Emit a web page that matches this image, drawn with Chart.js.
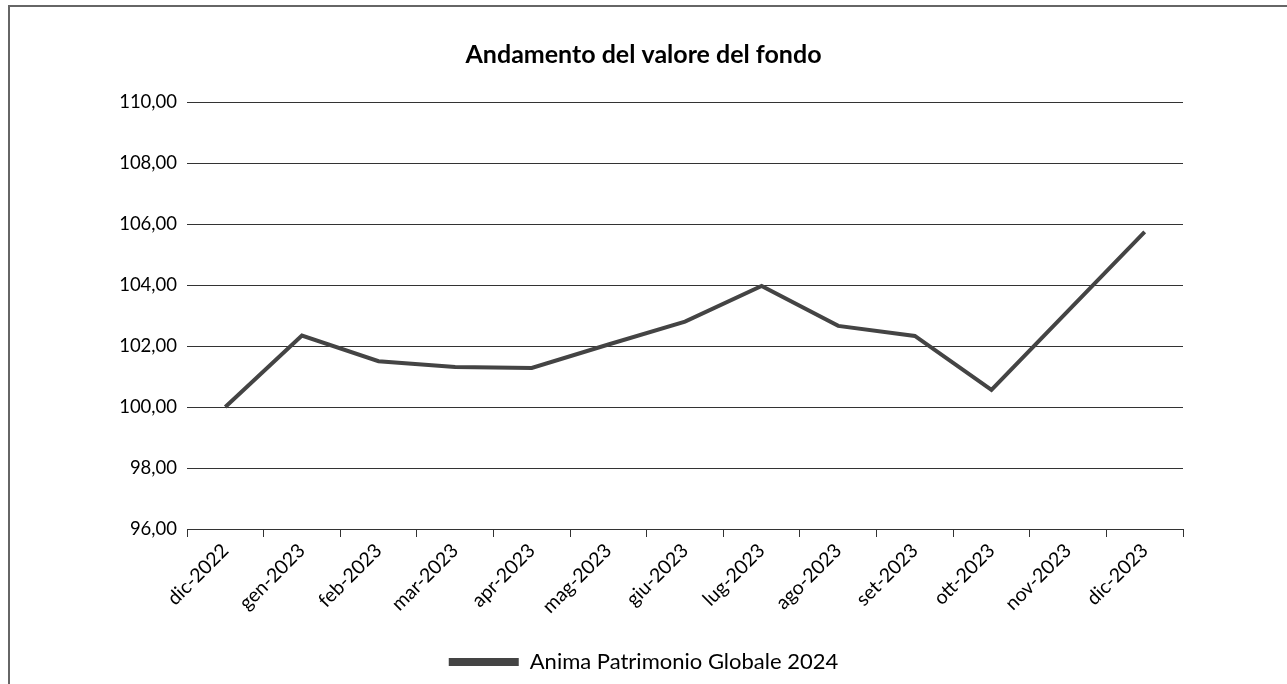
<!DOCTYPE html>
<html lang="it">
<head>
    <meta charset="UTF-8">
    <title>Andamento del valore del fondo</title>
    <script src="https://cdn.jsdelivr.net/npm/chart.js"></script>
    <style>
        html, body { margin: 0; padding: 0; background: #fff; }
        body { width: 1287px; height: 684px; position: relative; overflow: hidden; font-family: Lato, Arial, sans-serif; }
        #frame { position: absolute; left: 8px; top: 5px; width: 1279px; height: 679px; border-top: 2px solid #666; border-left: 2px solid #666; box-sizing: border-box; }
        #wrap { position: absolute; left: 0; top: 0; width: 1287px; height: 684px; }
    </style>
</head>
<body>
    <div id="frame"></div>
    <div id="wrap"><canvas id="fondoChart"></canvas></div>

    <script>
        const months = [
            "dic-2022", "gen-2023", "feb-2023", "mar-2023", "apr-2023", "mag-2023", "giu-2023",
            "lug-2023", "ago-2023", "set-2023", "ott-2023", "nov-2023", "dic-2023"
        ];

        const fundValues = [
            100.00, 102.34, 101.50, 101.31, 101.28, 102.05, 102.80,
            103.97, 102.66, 102.33, 100.56, 103.15, 105.74
        ];

        const seriesName = "Anima Patrimonio Globale 2024";
        const chartTitle = "Andamento del valore del fondo";

        const yMin = 96, yMax = 110, yStep = 2;

        const fmt = v => v.toFixed(2).replace(".", ",");

        const ctx = document.getElementById("fondoChart").getContext("2d");
        const chart = new Chart(ctx, {
            type: "line",
            data: {
                labels: months,
                datasets: [{
                    label: seriesName,
                    data: fundValues,
                    borderColor: "#444",
                    backgroundColor: "#444",
                    borderWidth: 4,
                    pointRadius: 0,
                    tension: 0
                }]
            },
            options: {
                responsive: true,
                maintainAspectRatio: false,
                animation: false,
                layout: { padding: { left: 0, right: 0, top: 0, bottom: 1 } },
                plugins: {
                    title: {
                        display: true,
                        text: chartTitle,
                        color: "#000",
                        font: { family: "Lato", size: 25, weight: "bold" },
                        padding: { top: 40, bottom: 32 }
                    },
                    legend: {
                        position: "bottom",
                        labels: {
                            color: "#000",
                            font: { family: "Lato", size: 22 },
                            boxWidth: 70,
                            boxHeight: 8,
                            padding: 10,
                            generateLabels: (c) => [{
                                text: seriesName,
                                fillStyle: "#444",
                                strokeStyle: "#444",
                                lineWidth: 0,
                                datasetIndex: 0
                            }]
                        }
                    },
                    tooltip: { enabled: false }
                },
                scales: {
                    x: {
                        offset: true,
                        grid: {
                            offset: true,
                            drawOnChartArea: false,
                            drawTicks: true,
                            tickLength: 8,
                            color: "#333"
                        },
                        border: { color: "#333", width: 1 },
                        ticks: {
                            color: "#000",
                            font: { family: "Lato", size: 19.5 },
                            minRotation: 45,
                            maxRotation: 45,
                            padding: 2
                        },
                        afterFit: (scale) => { scale.height = 112; }
                    },
                    y: {
                        min: yMin,
                        max: yMax,
                        grid: { color: "#333", lineWidth: 1, drawTicks: false },
                        border: { display: false },
                        ticks: {
                            stepSize: yStep,
                            color: "#000",
                            font: { family: "Lato", size: 18.5 },
                            padding: 10,
                            callback: (v) => fmt(v)
                        },
                        afterFit: (scale) => { scale.width = 187; }
                    },
                    // empty right-hand axis, only to keep the plot margin symmetric for title/legend centring
                    yRight: {
                        position: "right",
                        display: true,
                        grid: { drawOnChartArea: false, drawTicks: false },
                        border: { display: false },
                        ticks: { display: false },
                        afterFit: (scale) => { scale.width = 104; }
                    }
                }
            }
        });
    </script>
</body>
</html>
